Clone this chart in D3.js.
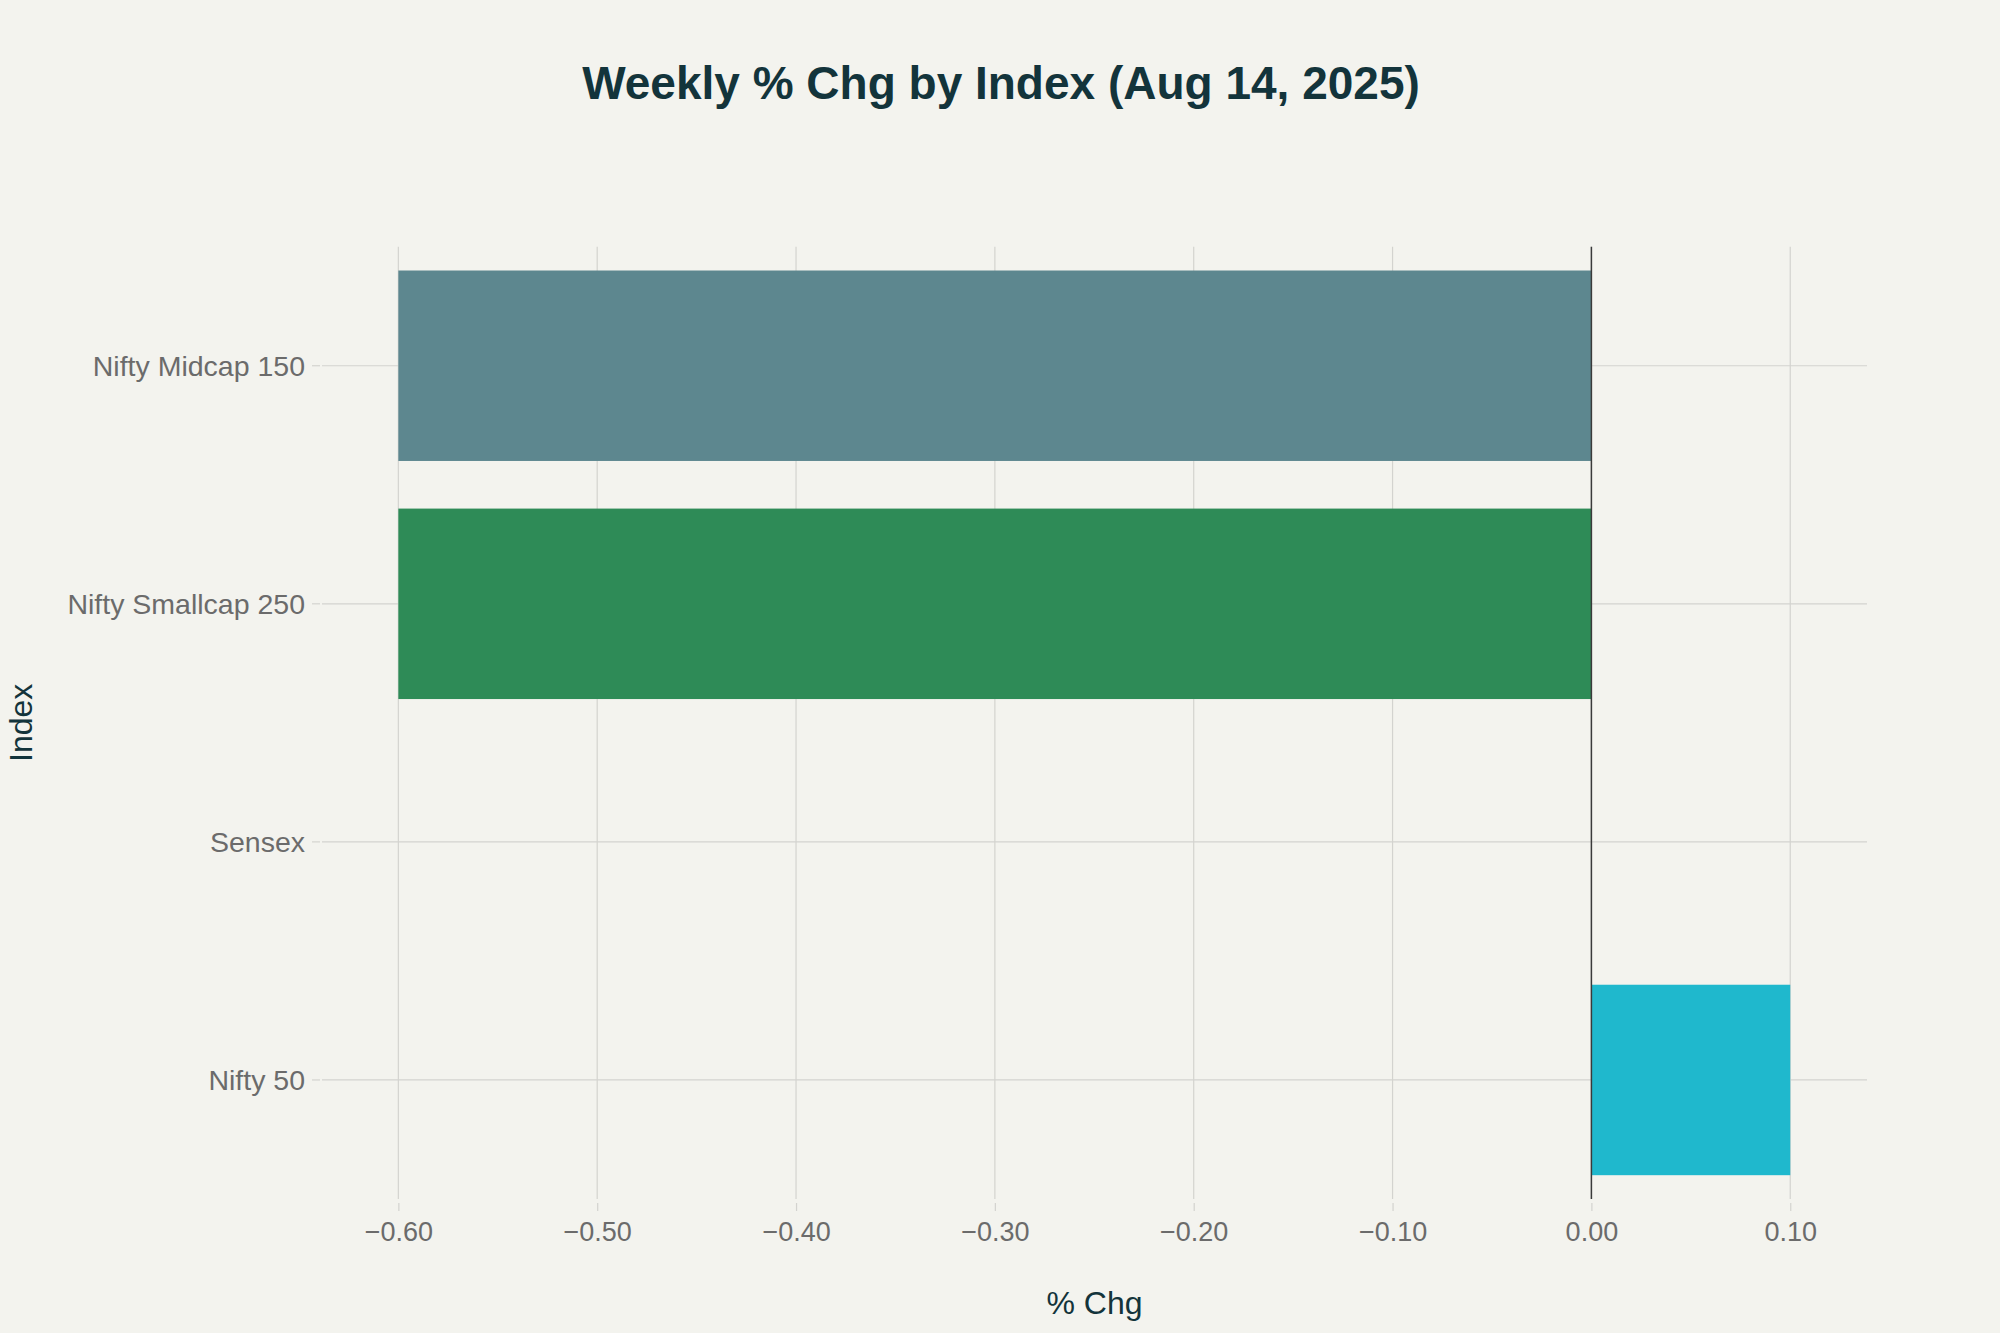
<!DOCTYPE html>
<html>
<head>
<meta charset="utf-8">
<script src="https://cdn.jsdelivr.net/npm/d3@7"></script>
<style>
  html, body { margin: 0; padding: 0; background: #F3F3EE; }
  svg { display: block; }
  text { font-family: "Liberation Sans", Arial, sans-serif; }
</style>
</head>
<body>
<svg id="chart" width="2000" height="1333"></svg>
<script>
// ---- data ----
const categories = ["Nifty Midcap 150", "Nifty Smallcap 250", "Sensex", "Nifty 50"];
const values = [-0.60, -0.60, 0.00, 0.10];
const barColors = ["#5D878F", "#2E8B57", "#DB4545", "#1FB8CD"];
const xTicks = [-0.6, -0.5, -0.4, -0.3, -0.2, -0.1, 0.0, 0.1];
const titleText = "Weekly % Chg by Index (Aug 14, 2025)";
const xTitle = "% Chg";
const yTitle = "Index";

// ---- layout ----
const W = 2000, H = 1333;
const plot = { left: 322, right: 1867, top: 246.7, bottom: 1199 };
const svg = d3.select("#chart");
svg.append("rect").attr("width", W).attr("height", H).attr("fill", "#F3F3EE");

const x = d3.scaleLinear().domain([-0.6384, 0.1386]).range([plot.left, plot.right]);
const y = d3.scaleBand().domain(categories).range([plot.top, plot.bottom])
  .paddingInner(0.2).paddingOuter(0.1);

const gridColor = "#D3D3CF";
// vertical gridlines
svg.append("g").selectAll("line").data(xTicks).join("line")
  .attr("x1", d => x(d)).attr("x2", d => x(d))
  .attr("y1", plot.top).attr("y2", plot.bottom)
  .attr("stroke", gridColor).attr("stroke-width", 1.2);
// horizontal gridlines
svg.append("g").selectAll("line").data(categories).join("line")
  .attr("x1", plot.left).attr("x2", plot.right)
  .attr("y1", d => y(d) + y.bandwidth() / 2).attr("y2", d => y(d) + y.bandwidth() / 2)
  .attr("stroke", gridColor).attr("stroke-width", 1.2);

// bars
svg.append("g").selectAll("rect").data(categories).join("rect")
  .attr("x", (d, i) => Math.min(x(0), x(values[i])))
  .attr("width", (d, i) => Math.abs(x(values[i]) - x(0)))
  .attr("y", d => y(d))
  .attr("height", y.bandwidth())
  .attr("fill", (d, i) => barColors[i]);

// zero line
svg.append("line")
  .attr("x1", x(0)).attr("x2", x(0))
  .attr("y1", plot.top).attr("y2", plot.bottom)
  .attr("stroke", "#3A3A3A").attr("stroke-width", 1.5);

// x axis
const xAxis = svg.append("g").attr("transform", `translate(0,${plot.bottom + 4})`)
  .call(d3.axisBottom(x).tickValues(xTicks).tickFormat(d3.format(".2f")).tickSize(8));
xAxis.select(".domain").remove();
xAxis.selectAll(".tick line").attr("stroke", gridColor).attr("stroke-width", 1.2);
xAxis.selectAll(".tick text")
  .attr("y", 29).attr("dy", "0.35em")
  .attr("fill", "#6B6B6B").style("font-size", "27px");

// y axis
const yAxis = svg.append("g").attr("transform", `translate(${plot.left - 2},0)`)
  .call(d3.axisLeft(y).tickSize(8));
yAxis.select(".domain").remove();
yAxis.selectAll(".tick line").attr("stroke", gridColor).attr("stroke-width", 1.2);
yAxis.selectAll(".tick text")
  .attr("x", -15).attr("dy", "0.35em")
  .attr("fill", "#6B6B6B").style("font-size", "28.5px");

// title
svg.append("text")
  .attr("x", 1001).attr("y", 99)
  .attr("text-anchor", "middle")
  .attr("fill", "#13343B")
  .style("font-size", "46px").style("font-weight", "bold")
  .text(titleText);

// axis titles
svg.append("text")
  .attr("x", (plot.left + plot.right) / 2).attr("y", 1303)
  .attr("dy", "0.35em")
  .attr("text-anchor", "middle").attr("fill", "#13343B")
  .style("font-size", "32px")
  .text(xTitle);

svg.append("text")
  .attr("transform", `translate(21,${(plot.top + plot.bottom) / 2}) rotate(-90)`)
  .attr("dy", "0.35em")
  .attr("text-anchor", "middle").attr("fill", "#13343B")
  .style("font-size", "32px")
  .text(yTitle);
</script>
</body>
</html>
